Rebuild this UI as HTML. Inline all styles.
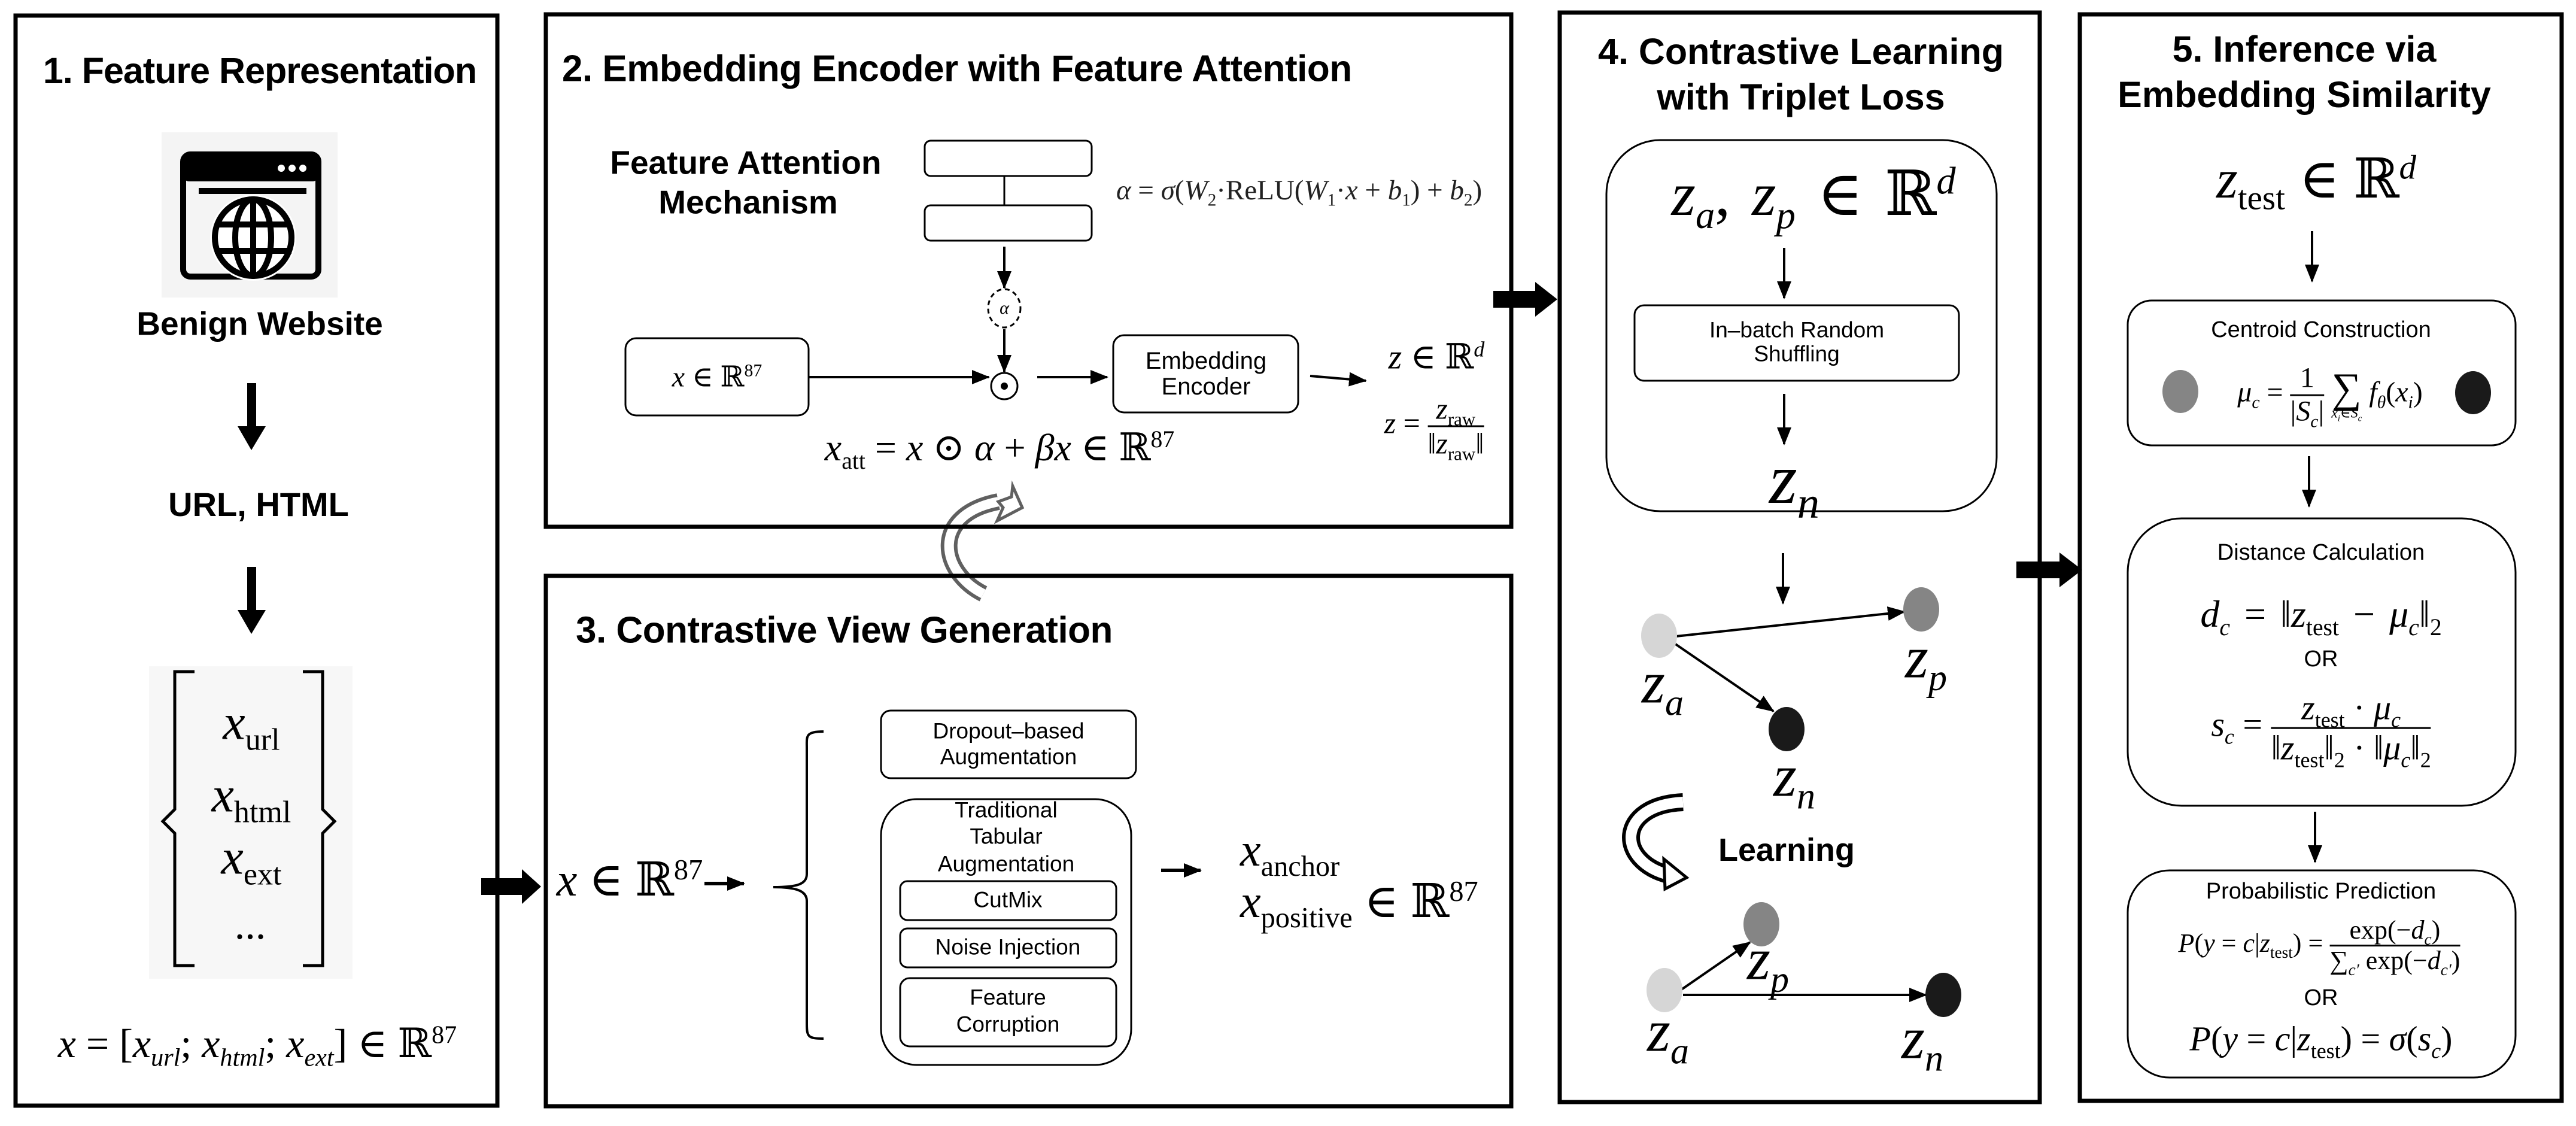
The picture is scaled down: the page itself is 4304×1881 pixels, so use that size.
<!DOCTYPE html>
<html><head><meta charset="utf-8">
<style>
html,body{margin:0;padding:0;background:#fff}
#w{position:relative;width:4304px;height:1881px;overflow:hidden;background:#fff;font-family:"Liberation Sans",Arial,sans-serif;color:#000}
.t{position:absolute;transform:translate(-50%,-50%);white-space:nowrap;text-align:center;line-height:1.15}
.l{position:absolute;transform:translateY(-50%);white-space:nowrap;line-height:1.15}
.b{font-weight:bold}
.m{font-family:"Liberation Serif","DejaVu Serif",serif}
.m i{font-style:italic}
.fr{display:inline-flex;flex-direction:column;vertical-align:middle;text-align:center;line-height:1.1}
.fr>span:first-child{border-bottom:3px solid #000;padding:0 6px}
sub,sup{font-size:62%;line-height:0}
svg{position:absolute;left:0;top:0}
</style></head><body><div id="w">
<svg width="4304" height="1881" viewBox="0 0 4304 1881">
<defs>
<marker id="ah" markerWidth="30" markerHeight="24" refX="28" refY="12" orient="auto" markerUnits="userSpaceOnUse"><path d="M0,0 L30,12 L0,24 z" fill="#000"/></marker>
</defs>
<g fill="none" stroke="#000" stroke-width="7">
<rect x="26" y="26" width="805" height="1821"/>
<rect x="912" y="24" width="1613" height="856"/>
<rect x="912" y="962" width="1613" height="886"/>
<rect x="2606" y="21" width="802" height="1820"/>
<rect x="3475" y="24" width="805" height="1815"/>
</g>
<rect x="270" y="221" width="294" height="276" fill="#f4f4f4"/>
<rect x="306" y="258" width="226" height="204" rx="12" fill="none" stroke="#000" stroke-width="10"/>
<rect x="306" y="258" width="226" height="45" rx="10" fill="#000"/>
<circle cx="470" cy="281" r="6" fill="#fff"/><circle cx="488" cy="281" r="6" fill="#fff"/><circle cx="506" cy="281" r="6" fill="#fff"/>
<rect x="332" y="314" width="180" height="10" fill="#000"/>
<circle cx="423" cy="397" r="72" fill="#fff" stroke="none"/>
<g fill="none" stroke="#000" stroke-width="10">
<circle cx="423" cy="397" r="64"/>
<ellipse cx="423" cy="397" rx="30" ry="64"/>
<line x1="423" y1="333" x2="423" y2="461"/>
<line x1="362" y1="375" x2="484" y2="375"/>
<line x1="359" y1="419" x2="487" y2="419"/>
</g>
<rect x="413" y="640" width="15" height="75" fill="#000"/><polygon points="397,712 444,712 420,752" fill="#000"/>
<rect x="413" y="947" width="15" height="75" fill="#000"/><polygon points="397,1019 444,1019 420,1059" fill="#000"/>
<rect x="249" y="1113" width="340" height="522" fill="#f7f7f7"/>
<g fill="none" stroke="#000" stroke-width="5">
<path d="M325,1122 L292,1122 L292,1352 L272,1372 L292,1392 L292,1613 L325,1613"/>
<path d="M506,1122 L539,1122 L539,1352 L559,1372 L539,1392 L539,1613 L506,1613"/>
</g>
<rect x="804" y="1467" width="70" height="28" fill="#000"/><polygon points="872,1452 904,1481 872,1510" fill="#000"/>
<rect x="2495" y="486" width="72" height="28" fill="#000"/><polygon points="2565,471 2602,500 2565,529" fill="#000"/>
<rect x="3369" y="938" width="74" height="28" fill="#000"/><polygon points="3441,923 3479,952 3441,981" fill="#000"/>
<g fill="none" stroke="#000" stroke-width="3">
<rect x="1545" y="235" width="279" height="59" rx="10"/>
<rect x="1545" y="343" width="279" height="59" rx="10"/>
<line x1="1678" y1="294" x2="1678" y2="343"/>
<rect x="1045" y="565" width="306" height="129" rx="18"/>
<rect x="1860" y="560" width="309" height="129" rx="18"/>
<ellipse cx="1678" cy="515" rx="27" ry="32" stroke-dasharray="8,6"/>
<circle cx="1678" cy="645" r="22"/>
</g>
<circle cx="1678" cy="645" r="6" fill="#000"/>
<g stroke="#000" stroke-width="4" fill="none" marker-end="url(#ah)">
<line x1="1678" y1="412" x2="1678" y2="481"/>
<line x1="1678" y1="550" x2="1678" y2="621"/>
<line x1="1351" y1="630" x2="1652" y2="630"/>
<line x1="1733" y1="630" x2="1850" y2="630"/>
<line x1="2189" y1="628" x2="2282" y2="636"/>
</g>
<path d="M1643,992 C1570,955 1555,860 1668,838" fill="none" stroke="#606060" stroke-width="28"/>
<path d="M1643,992 C1570,955 1555,860 1668,838" fill="none" stroke="#fff" stroke-width="16"/>
<polygon points="1692,812 1708,848 1666,870 1676,848 1668,838 1690,830" fill="#fff" stroke="#606060" stroke-width="5"/>
<line x1="912" y1="880" x2="2525" y2="880" stroke="#000" stroke-width="7"/>
<line x1="912" y1="962" x2="2525" y2="962" stroke="#000" stroke-width="7"/>
<g stroke="#000" stroke-width="4" fill="none">
<line x1="1177" y1="1476" x2="1243" y2="1476" stroke-width="6" marker-end="url(#ah)"/>
<line x1="1940" y1="1454" x2="2006" y2="1454" stroke-width="6" marker-end="url(#ah)"/>
<path d="M1376,1222 C1345,1222 1348,1230 1348,1250 L1348,1460 C1348,1478 1330,1482 1292,1482 C1330,1482 1348,1488 1348,1505 L1348,1710 C1348,1732 1350,1735 1376,1735"/>
<rect x="1472" y="1187" width="426" height="113" rx="16" stroke-width="3"/>
<rect x="1472" y="1335" width="418" height="444" rx="60" stroke-width="3"/>
<rect x="1504" y="1472" width="361" height="65" rx="12" stroke-width="3"/>
<rect x="1504" y="1551" width="361" height="65" rx="12" stroke-width="3"/>
<rect x="1504" y="1634" width="361" height="114" rx="16" stroke-width="3"/>
</g>
<g stroke="#000" stroke-width="3" fill="none">
<rect x="2684" y="234" width="652" height="620" rx="90"/>
<rect x="2731" y="510" width="542" height="126" rx="16"/>
</g>
<g stroke="#000" stroke-width="4" fill="none" marker-end="url(#ah)">
<line x1="2981" y1="414" x2="2981" y2="498"/>
<line x1="2981" y1="658" x2="2981" y2="742"/>
<line x1="2979" y1="924" x2="2979" y2="1008"/>
<line x1="2800" y1="1063" x2="3182" y2="1022"/>
<line x1="2798" y1="1075" x2="2963" y2="1188"/>
<line x1="2808" y1="1654" x2="2924" y2="1574"/>
<line x1="2812" y1="1662" x2="3218" y2="1662"/>
<line x1="3863" y1="386" x2="3863" y2="470"/>
<line x1="3858" y1="762" x2="3858" y2="846"/>
<line x1="3868" y1="1356" x2="3868" y2="1440"/>
</g>
<ellipse cx="2772" cy="1062" rx="30" ry="37" fill="#d6d6d6"/>
<ellipse cx="3210" cy="1018" rx="30" ry="37" fill="#858585"/>
<ellipse cx="2985" cy="1218" rx="30" ry="37" fill="#1a1a1a"/>
<ellipse cx="2781" cy="1654" rx="30" ry="37" fill="#d6d6d6"/>
<ellipse cx="2943" cy="1544" rx="30" ry="37" fill="#858585"/>
<ellipse cx="3247" cy="1662" rx="30" ry="37" fill="#1a1a1a"/>
<path d="M2812,1340 C2700,1345 2700,1440 2790,1462" fill="none" stroke="#000" stroke-width="30"/>
<path d="M2812,1340 C2700,1345 2700,1440 2790,1462" fill="none" stroke="#fff" stroke-width="18"/>
<polygon points="2780,1435 2818,1466 2782,1485" fill="#fff" stroke="#000" stroke-width="5"/>
<g stroke="#000" stroke-width="3" fill="none">
<rect x="3555" y="502" width="648" height="242" rx="40"/>
<rect x="3555" y="866" width="648" height="480" rx="90"/>
<rect x="3555" y="1454" width="648" height="346" rx="70"/>
</g>
<ellipse cx="3643" cy="654" rx="30" ry="36" fill="#858585"/>
<ellipse cx="4132" cy="656" rx="30" ry="36" fill="#1a1a1a"/>
</svg>

<div class="t b" style="left:434px;top:118px;font-size:61px;letter-spacing:-1px">1. Feature Representation</div>
<div class="t b" style="left:434px;top:541px;font-size:55px">Benign Website</div>
<div class="t b" style="left:432px;top:843px;font-size:56px">URL, HTML</div>
<div class="t m" style="left:420px;top:1208px;font-size:84px"><i>x</i><sub>url</sub></div>
<div class="t m" style="left:420px;top:1329px;font-size:84px"><i>x</i><sub>html</sub></div>
<div class="t m" style="left:420px;top:1433px;font-size:84px"><i>x</i><sub>ext</sub></div>
<div class="t m" style="left:418px;top:1546px;font-size:70px">...</div>
<div class="t m" style="left:430px;top:1743px;font-size:68px"><i>x</i> = [<i>x<sub>url</sub></i>; <i>x<sub>html</sub></i>; <i>x<sub>ext</sub></i>] ∈ ℝ<sup>87</sup></div>

<div class="l b" style="left:939px;top:115px;font-size:62px;letter-spacing:-0.5px">2. Embedding Encoder with Feature Attention</div>
<div class="t b" style="left:1246px;top:272px;font-size:55px">Feature Attention</div>
<div class="t b" style="left:1250px;top:338px;font-size:55px">Mechanism</div>
<div class="l m" style="left:1865px;top:318px;font-size:47px;color:#222"><i>α</i> = <i>σ</i>(<i>W</i><sub>2</sub>·ReLU(<i>W</i><sub>1</sub>·<i>x</i> + <i>b</i><sub>1</sub>) + <i>b</i><sub>2</sub>)</div>
<div class="t m" style="left:1678px;top:515px;font-size:30px"><i>α</i></div>
<div class="t m" style="left:1198px;top:630px;font-size:48px"><i>x</i> ∈ ℝ<sup>87</sup></div>
<div class="t" style="left:2015px;top:603px;font-size:40px">Embedding</div>
<div class="t" style="left:2015px;top:646px;font-size:40px">Encoder</div>
<div class="t m" style="left:2400px;top:597px;font-size:58px"><i>z</i> ∈ ℝ<sup><i>d</i></sup></div>
<div class="t m" style="left:2396px;top:712px;font-size:50px"><i>z</i> = <span class="fr"><span><i>z</i><sub>raw</sub></span><span>‖<i>z</i><sub>raw</sub>‖</span></span></div>
<div class="t m" style="left:1670px;top:748px;font-size:64px"><i>x</i><sub>att</sub> = <i>x</i> ⊙ <i>α</i> + <i>βx</i> ∈ ℝ<sup>87</sup></div>

<div class="l b" style="left:962px;top:1053px;font-size:62px;letter-spacing:-0.5px">3. Contrastive View Generation</div>
<div class="t m" style="left:1052px;top:1470px;font-size:78px"><i>x</i> ∈ ℝ<sup>87</sup></div>
<div class="t" style="left:1685px;top:1222px;font-size:37px">Dropout–based</div>
<div class="t" style="left:1685px;top:1265px;font-size:37px">Augmentation</div>
<div class="t" style="left:1681px;top:1354px;font-size:37px">Traditional</div>
<div class="t" style="left:1681px;top:1398px;font-size:37px">Tabular</div>
<div class="t" style="left:1681px;top:1444px;font-size:37px">Augmentation</div>
<div class="t" style="left:1684px;top:1504px;font-size:37px">CutMix</div>
<div class="t" style="left:1684px;top:1583px;font-size:37px">Noise Injection</div>
<div class="t" style="left:1684px;top:1667px;font-size:37px">Feature</div>
<div class="t" style="left:1684px;top:1712px;font-size:37px">Corruption</div>
<div class="l m" style="left:2072px;top:1420px;font-size:78px"><i>x</i><sub>anchor</sub></div>
<div class="l m" style="left:2072px;top:1506px;font-size:78px"><i>x</i><sub>positive</sub> ∈ ℝ<sup>87</sup></div>

<div class="t b" style="left:3009px;top:86px;font-size:61px">4. Contrastive Learning</div>
<div class="t b" style="left:3009px;top:162px;font-size:61px">with Triplet Loss</div>
<div class="t m" style="left:3030px;top:325px;font-size:104px;word-spacing:10px"><i>z<sub>a</sub></i>, <i>z<sub>p</sub></i> ∈ ℝ<sup><i>d</i></sup></div>
<div class="t" style="left:3002px;top:552px;font-size:37px">In–batch Random</div>
<div class="t" style="left:3002px;top:592px;font-size:37px">Shuffling</div>
<div class="t m" style="left:2998px;top:800px;font-size:120px"><i>z<sub>n</sub></i></div>
<div class="t m" style="left:2778px;top:1140px;font-size:100px"><i>z<sub>a</sub></i></div>
<div class="t m" style="left:3218px;top:1098px;font-size:100px"><i>z<sub>p</sub></i></div>
<div class="t m" style="left:2998px;top:1296px;font-size:100px"><i>z<sub>n</sub></i></div>
<div class="l b" style="left:2871px;top:1420px;font-size:54px">Learning</div>
<div class="t m" style="left:2787px;top:1722px;font-size:100px"><i>z<sub>a</sub></i></div>
<div class="t m" style="left:2954px;top:1602px;font-size:100px"><i>z<sub>p</sub></i></div>
<div class="t m" style="left:3212px;top:1734px;font-size:100px"><i>z<sub>n</sub></i></div>

<div class="t b" style="left:3850px;top:82px;font-size:61px">5. Inference via</div>
<div class="t b" style="left:3850px;top:158px;font-size:61px">Embedding Similarity</div>
<div class="t m" style="left:3870px;top:300px;font-size:92px"><i>z</i><sub>test</sub> ∈ ℝ<sup><i>d</i></sup></div>
<div class="t" style="left:3878px;top:552px;font-size:38px">Centroid Construction</div>
<div class="t m" style="left:3893px;top:660px;font-size:48px"><i>μ<sub>c</sub></i> = <span class="fr"><span>1</span><span>|<i>S<sub>c</sub></i>|</span></span> <span style="display:inline-flex;flex-direction:column;vertical-align:middle;line-height:0.9;text-align:center"><span style="font-size:70px">∑</span><span style="font-size:24px"><i>x<sub>i</sub></i>∈<i>S<sub>c</sub></i></span></span> <i>f<sub>θ</sub></i>(<i>x<sub>i</sub></i>)</div>
<div class="t" style="left:3878px;top:924px;font-size:38px">Distance Calculation</div>
<div class="t m" style="left:3878px;top:1026px;font-size:64px;word-spacing:8px"><i>d<sub>c</sub></i> = ‖<i>z</i><sub>test</sub> − <i>μ<sub>c</sub></i>‖<sub>2</sub></div>
<div class="t" style="left:3878px;top:1102px;font-size:38px">OR</div>
<div class="t m" style="left:3878px;top:1216px;font-size:58px"><i>s<sub>c</sub></i> = <span class="fr"><span><i>z</i><sub>test</sub> · <i>μ<sub>c</sub></i></span><span>‖<i>z</i><sub>test</sub>‖<sub>2</sub> · ‖<i>μ<sub>c</sub></i>‖<sub>2</sub></span></span></div>
<div class="t" style="left:3878px;top:1490px;font-size:38px">Probabilistic Prediction</div>
<div class="t m" style="left:3875px;top:1580px;font-size:44px"><i>P</i>(<i>y</i> = <i>c</i>|<i>z</i><sub>test</sub>) = <span class="fr"><span>exp(−<i>d<sub>c</sub></i>)</span><span>∑<sub><i>c′</i></sub> exp(−<i>d<sub>c′</sub></i>)</span></span></div>
<div class="t" style="left:3878px;top:1668px;font-size:38px">OR</div>
<div class="t m" style="left:3878px;top:1736px;font-size:58px"><i>P</i>(<i>y</i> = <i>c</i>|<i>z</i><sub>test</sub>) = <i>σ</i>(<i>s<sub>c</sub></i>)</div>
</div></body></html>
